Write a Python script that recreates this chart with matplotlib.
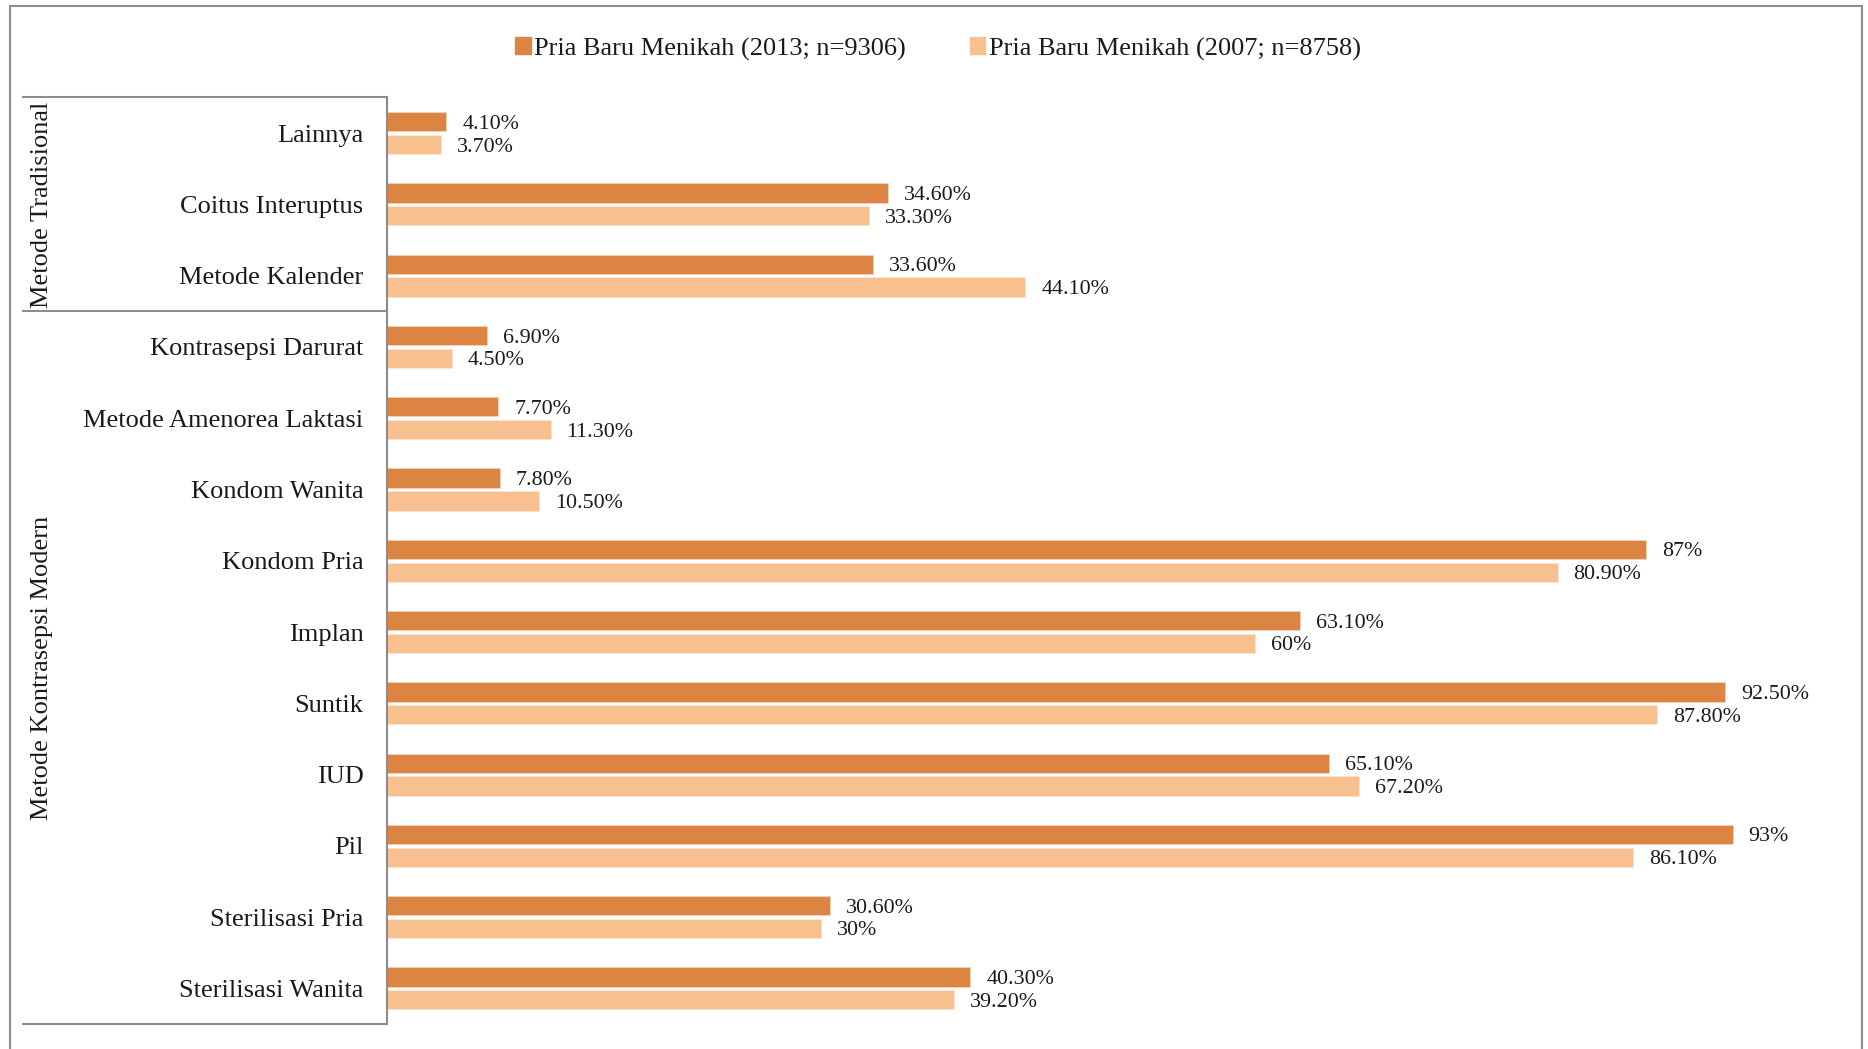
import matplotlib.pyplot as plt
import matplotlib.transforms as mtransforms
from matplotlib.lines import Line2D
from matplotlib.patches import Patch
import numpy as np

plt.rcParams['font.family'] = ['Liberation Serif', 'DejaVu Serif']

# data, top row first
categories = ['Lainnya', 'Coitus Interuptus', 'Metode Kalender',
              'Kontrasepsi Darurat', 'Metode Amenorea Laktasi', 'Kondom Wanita',
              'Kondom Pria', 'Implan', 'Suntik', 'IUD', 'Pil',
              'Sterilisasi Pria', 'Sterilisasi Wanita']
vals_2013 = [4.1, 34.6, 33.6, 6.9, 7.7, 7.8, 87, 63.1, 92.5, 65.1, 93, 30.6, 40.3]
vals_2007 = [3.7, 33.3, 44.1, 4.5, 11.3, 10.5, 80.9, 60, 87.8, 67.2, 86.1, 30, 39.2]
series_names = ['Pria Baru Menikah (2013; n=9306)', 'Pria Baru Menikah (2007; n=8758)']
groups = [('Metode Tradisional', 0, 2), ('Metode Kontrasepsi Modern', 3, 12)]

c_dark = '#DC8441'
c_light = '#F9C08F'
c_line = '#8c8c8c'
c_text = '#1a1a1a'

W, H = 1868, 1049
fig = plt.figure(figsize=(W / 100, H / 100), dpi=100)

ax_left, ax_right = 387, 1800
ax_top, ax_bot = 97.5, 1024
ax = fig.add_axes([ax_left / W, 1 - ax_bot / H, (ax_right - ax_left) / W, (ax_bot - ax_top) / H])

px_per_unit = 14.47
ax.set_xlim(0, (ax_right - ax_left) / px_per_unit)
ax.set_ylim(len(categories) - 0.5, -0.5)

y = np.arange(len(categories))
h = 0.27
off = 0.16
ax.barh(y - off, vals_2013, height=h, color=c_dark, edgecolor='#f3d2b8', linewidth=0.6)
ax.barh(y + off, vals_2007, height=h, color=c_light, edgecolor='#fde6d2', linewidth=0.6)


def fmt(v):
    return f"{v:.0f}%" if float(v).is_integer() else f"{v:.2f}%"


for i in range(len(categories)):
    ax.annotate(fmt(vals_2013[i]), (vals_2013[i], y[i] - off), xytext=(16, 0),
                textcoords='offset pixels', va='center_baseline', ha='left',
                fontsize=15.8, color=c_text)
    ax.annotate(fmt(vals_2007[i]), (vals_2007[i], y[i] + off), xytext=(16, 0),
                textcoords='offset pixels', va='center_baseline', ha='left',
                fontsize=15.8, color=c_text)

ax.set_yticks(y)
ax.set_yticklabels(categories, fontsize=19, color=c_text)
ax.tick_params(axis='y', length=0, pad=17)
ax.set_xticks([])
for s in ['top', 'right', 'bottom']:
    ax.spines[s].set_visible(False)
ax.spines['left'].set_color(c_line)
ax.spines['left'].set_linewidth(1.5)

# multi-level category axis: horizontal separators + group labels
tr = mtransforms.blended_transform_factory(fig.transFigure, ax.transData)
for yy in [-0.5, 2.5, len(categories) - 0.5]:
    fig.add_artist(Line2D([23 / W, ax_left / W], [yy, yy], transform=tr,
                          color=c_line, linewidth=1.5))
for name, a, b in groups:
    fig.text(42 / W, (a + b) / 2, name, transform=tr, rotation=90,
             ha='center', va='center', fontsize=19, color=c_text)

# outer frame
for xs, ys in [([10 / W, 10 / W], [0, 1 - 6 / H]),
               ([10 / W, 1862 / W], [1 - 6 / H, 1 - 6 / H]),
               ([1862 / W, 1862 / W], [0, 1 - 6 / H])]:
    fig.add_artist(Line2D(xs, ys, color=c_line, linewidth=1.5))

handles = [Patch(color=c_dark), Patch(color=c_light)]
fig.legend(handles, series_names, loc='center', bbox_to_anchor=(938 / W, 1 - 49 / H),
           ncol=2, frameon=False, fontsize=19, handlelength=0.6, handleheight=0.6,
           handletextpad=0.15, columnspacing=2.4, labelcolor=c_text)

fig.savefig('out.png', dpi=100)
